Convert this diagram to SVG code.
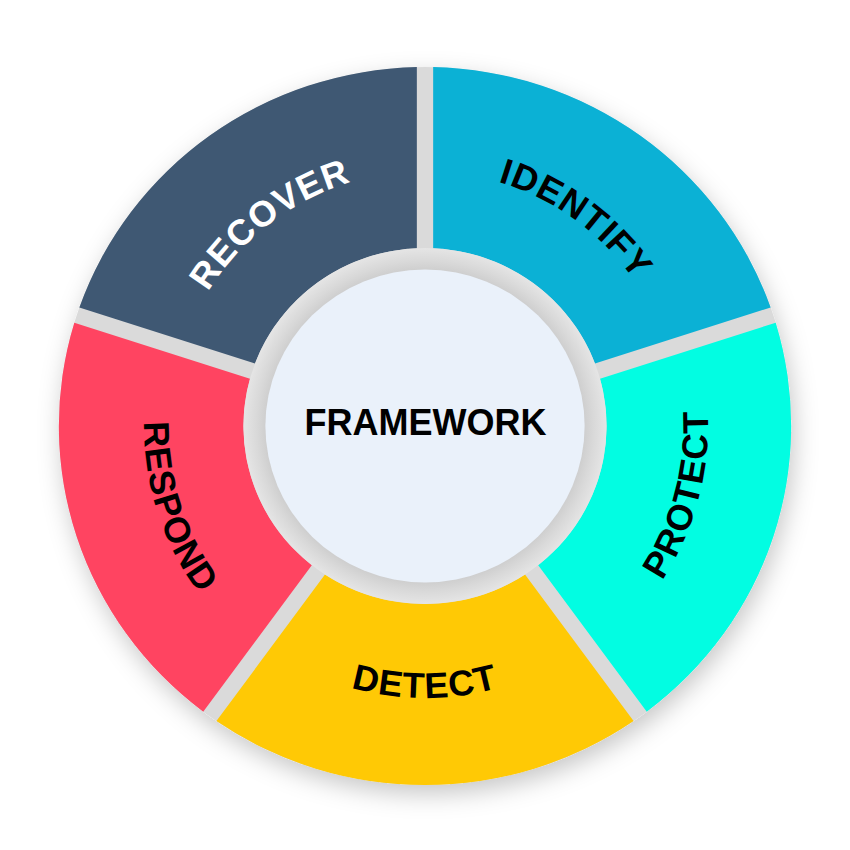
<svg xmlns="http://www.w3.org/2000/svg" xmlns:xlink="http://www.w3.org/1999/xlink" width="850" height="850" viewBox="0 0 850 850">
  <style>
    .lbl { font-family: "Liberation Sans", Arial, sans-serif; font-weight: 700; font-size: 36px; letter-spacing: 1px; }
    .center { letter-spacing: 0px; }
    .dark { fill: #000000; }
    .light { fill: #ffffff; }
    .seg { stroke: none; }
  </style>
  <defs>
    <filter id="shadow" x="-20%" y="-20%" width="140%" height="140%">
      <feDropShadow dx="3" dy="9" stdDeviation="12" flood-color="#000000" flood-opacity="0.22"/>
    </filter>
    <radialGradient id="ringGrad" cx="0" cy="0" r="178" gradientUnits="userSpaceOnUse">
      <stop offset="0.86" stop-color="#cbcbcb"/>
      <stop offset="0.93" stop-color="#d9d9d9"/>
      <stop offset="1" stop-color="#e5e5e5"/>
    </radialGradient>
    <path id="sector" d="M8,-358.91 A359,359 0 0 1 338.87,-118.52 L166.65,-62.56 A178,178 0 0 0 8,-177.82 Z"/>
    <path id="arcRecover" d="M172.18,459.29 A255,255 0 0 1 522.58,190.41"/>
    <path id="arcIdentify" d="M321.28,193.04 A255,255 0 0 1 678.60,452.66"/>
    <path id="arcDetect" d="M189.44,562 A272,272 0 0 0 660.56,562"/>
    <path id="arcProtect" d="M498.25,699.36 A283,283 0 0 0 625.11,225.89"/>
    <path id="arcRespond" d="M216.18,237.97 A281,281 0 0 0 366.58,700.86"/>
  </defs>

  <rect x="0" y="0" width="850" height="850" fill="#ffffff"/>

  <g id="base" transform="translate(425,426) scale(1.02,1)">
    <circle cx="0" cy="0" r="359" fill="#dadada" filter="url(#shadow)"/>
  </g>

  <g id="identify">
    <use xlink:href="#sector" class="seg" fill="#0bb1d5" transform="translate(425,426) scale(1.02,1)"/>
    <text class="lbl dark"><textPath xlink:href="#arcIdentify" startOffset="50%" text-anchor="middle">IDENTIFY</textPath></text>
  </g>

  <g id="protect">
    <use xlink:href="#sector" class="seg" fill="#02fde2" transform="translate(425,426) scale(1.02,1) rotate(72)"/>
    <text class="lbl dark"><textPath xlink:href="#arcProtect" startOffset="50%" text-anchor="middle">PROTECT</textPath></text>
  </g>

  <g id="detect">
    <use xlink:href="#sector" class="seg" fill="#ffc905" transform="translate(425,426) scale(1.02,1) rotate(144)"/>
    <text class="lbl dark"><textPath xlink:href="#arcDetect" startOffset="50%" text-anchor="middle">DETECT</textPath></text>
  </g>

  <g id="respond">
    <use xlink:href="#sector" class="seg" fill="#ff4461" transform="translate(425,426) scale(1.02,1) rotate(216)"/>
    <text class="lbl dark"><textPath xlink:href="#arcRespond" startOffset="50%" text-anchor="middle">RESPOND</textPath></text>
  </g>

  <g id="recover">
    <use xlink:href="#sector" class="seg" fill="#3f5873" transform="translate(425,426) scale(1.02,1) rotate(288)"/>
    <text class="lbl light"><textPath xlink:href="#arcRecover" startOffset="50%" text-anchor="middle">RECOVER</textPath></text>
  </g>

  <g id="framework">
    <g transform="translate(425,426) scale(1.02,1)">
      <circle cx="0" cy="0" r="178" fill="url(#ringGrad)"/>
      <circle cx="0" cy="0" r="156.5" fill="#eaf1fa"/>
    </g>
    <text class="lbl center dark" x="425.5" y="435" text-anchor="middle">FRAMEWORK</text>
  </g>
</svg>
